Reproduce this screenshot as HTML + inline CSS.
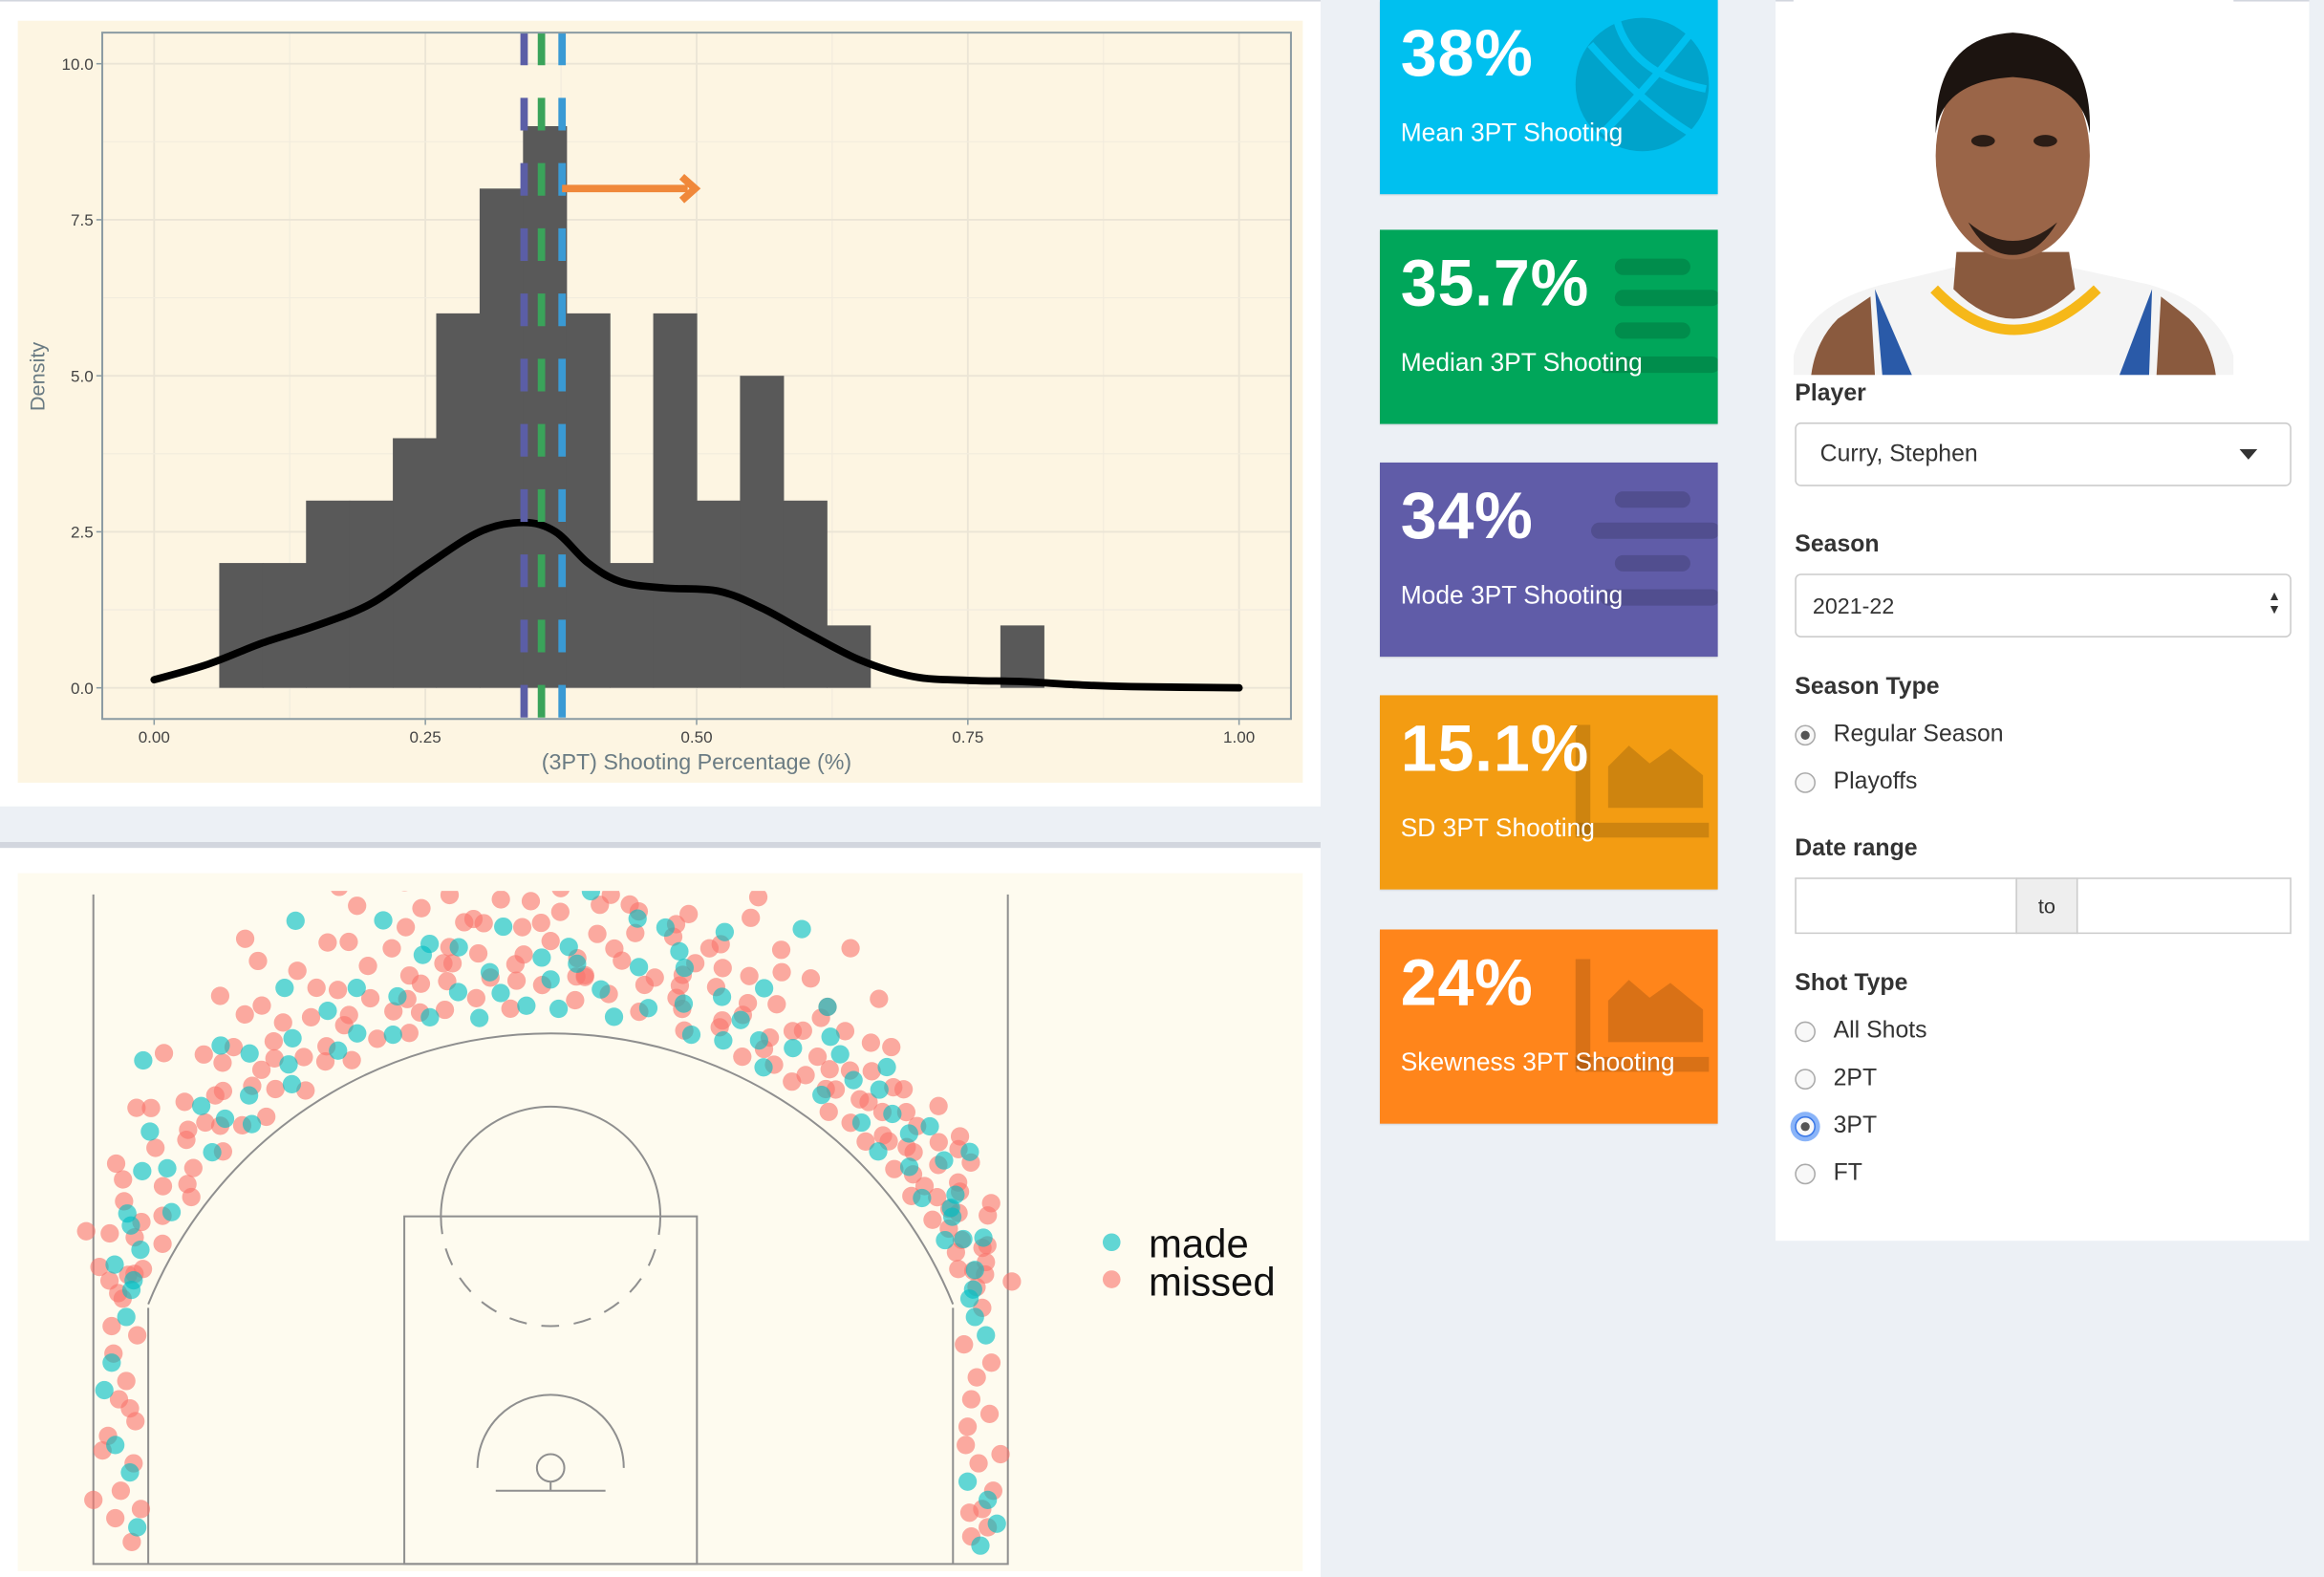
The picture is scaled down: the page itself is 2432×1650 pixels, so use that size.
<!DOCTYPE html>
<html><head><meta charset="utf-8">
<style>
html,body{margin:0;padding:0;background:#ecf0f5;overflow:hidden;width:2432px;height:1644px;}
#root{position:absolute;left:0;top:0;width:1568px;height:1060px;transform:scale(1.55102);transform-origin:0 0;background:#ecf0f5;font-family:"Liberation Sans",sans-serif;}
.abs{position:absolute;}
.vbox{position:absolute;left:931px;width:228px;height:131px;color:#fff;overflow:hidden;box-shadow:0 1px 1px rgba(0,0,0,0.1);}
.vbox .big{position:absolute;left:14px;top:12px;font-size:44px;font-weight:bold;letter-spacing:0.5px;}
.vbox .sub{position:absolute;left:14px;top:80px;font-size:17px;}
.lbl{position:absolute;left:1211px;font-size:16px;font-weight:bold;color:#333;}
.radio{position:absolute;left:1211px;font-size:16px;color:#333;}
.radio .c{position:absolute;left:0;top:2px;width:12px;height:12px;border:1px solid #aaa;border-radius:50%;background:#f8f8f8;}
.radio .c.on::after{content:"";position:absolute;left:3px;top:3px;width:6px;height:6px;border-radius:50%;background:#555;}
.radio span{position:absolute;left:26px;top:0;white-space:nowrap;}
.inp{position:absolute;border:1px solid #ccc;background:#fff;font-size:16px;color:#333;box-sizing:border-box;}
</style></head>
<body>
<div id="root">
  <div class="abs" style="left:0;top:0;width:891px;height:543px;background:#fff;border-top:1px solid #d2d6de;"></div>
  <svg id="hist" class="abs" style="left:0;top:0" width="891" height="543"></svg>
  <div class="abs" style="left:0;top:568px;width:891px;height:492px;background:#fff;border-top:4px solid #d2d6de;"></div>
  <svg id="court" class="abs" style="left:0;top:0" width="891" height="1060"></svg>

  <div class="vbox" style="top:0;background:#00c0ef">
    <svg class="abs" style="left:130px;top:10px" width="94" height="94"><circle cx="47" cy="47" r="45" fill="rgba(0,0,0,0.15)"/><g stroke="#00c0ef" stroke-width="5" fill="none"><path d="M12 20 Q47 60 80 80"/><path d="M20 80 Q50 50 80 12"/><path d="M30 4 Q40 40 90 50"/></g></svg>
    <div class="big">38%</div>
    <div class="sub">Mean 3PT Shooting</div>
  </div>
  <div class="vbox" style="top:155px;background:#00a65a">
    <svg class="abs" style="left:150px;top:18px" width="80" height="84"><g stroke="rgba(0,0,0,0.15)" stroke-width="11" stroke-linecap="round"><line x1="14" y1="7" x2="54" y2="7"/><line x1="14" y1="28" x2="74" y2="28"/><line x1="14" y1="50" x2="54" y2="50"/><line x1="0" y1="73" x2="74" y2="73"/></g></svg>
    <div class="big">35.7%</div>
    <div class="sub">Median 3PT Shooting</div>
  </div>
  <div class="vbox" style="top:312px;background:#605ca8">
    <svg class="abs" style="left:140px;top:18px" width="90" height="84"><g stroke="rgba(0,0,0,0.15)" stroke-width="11" stroke-linecap="round"><line x1="24" y1="7" x2="64" y2="7"/><line x1="8" y1="28" x2="84" y2="28"/><line x1="24" y1="50" x2="64" y2="50"/><line x1="14" y1="73" x2="84" y2="73"/></g></svg>
    <div class="big">34%</div>
    <div class="sub">Mode 3PT Shooting</div>
  </div>
  <div class="vbox" style="top:469px;background:#f39c12">
    <svg class="abs" style="left:130px;top:18px" width="98" height="84"><g fill="rgba(0,0,0,0.15)"><rect x="2" y="2" width="10" height="74"/><rect x="2" y="68" width="90" height="10"/><path d="M24 58 L24 30 L38 16 L52 28 L66 18 L88 36 L88 58 Z"/></g></svg>
    <div class="big">15.1%</div>
    <div class="sub">SD 3PT Shooting</div>
  </div>
  <div class="vbox" style="top:627px;background:#ff851b">
    <svg class="abs" style="left:130px;top:18px" width="98" height="84"><g fill="rgba(0,0,0,0.15)"><rect x="2" y="2" width="10" height="74"/><rect x="2" y="68" width="90" height="10"/><path d="M24 58 L24 30 L38 16 L52 28 L66 18 L88 36 L88 58 Z"/></g></svg>
    <div class="big">24%</div>
    <div class="sub">Skewness 3PT Shooting</div>
  </div>

  <div class="abs" style="left:1198px;top:0;width:360px;height:836px;background:#fff;border-top:1px solid #d2d6de;"></div>
  <svg class="abs" style="left:1210px;top:0" width="297" height="253">
    <rect width="297" height="253" fill="#fff"/>
    <path d="M0 253 L0 240 Q10 205 60 192 L110 180 L185 180 L240 192 Q285 205 297 240 L297 253 Z" fill="#f4f4f4"/>
    <path d="M55 195 L80 253 L60 253 Z M242 195 L220 253 L240 253 Z" fill="#2a5aa8"/>
    <path d="M30 215 Q15 230 12 253 L55 253 L52 200 Z M267 215 Q282 230 285 253 L245 253 L248 200 Z" fill="#8a5a3e"/>
    <path d="M110 170 L108 195 Q148 235 190 195 L186 170 Z" fill="#8a5a3e"/>
    <path d="M95 195 Q148 250 205 195" fill="none" stroke="#f6b819" stroke-width="7"/>
    <ellipse cx="148" cy="105" rx="52" ry="70" fill="#9a6548"/>
    <path d="M96 90 Q95 25 148 22 Q202 25 200 90 Q195 55 148 52 Q100 55 96 90 Z" fill="#1c1410"/>
    <path d="M118 150 Q148 175 178 150 Q165 172 148 172 Q130 172 118 150 Z" fill="#2b1d16"/>
    <ellipse cx="128" cy="95" rx="8" ry="4" fill="#2b1d16"/><ellipse cx="170" cy="95" rx="8" ry="4" fill="#2b1d16"/>
  </svg>
  <div class="lbl" style="top:257px">Player</div>
  <div class="inp" style="left:1211px;top:285px;width:335px;height:43px;border-radius:4px;"><span style="position:absolute;left:16px;top:12px">Curry, Stephen</span><span style="position:absolute;right:22px;top:17px;width:0;height:0;border-left:6px solid transparent;border-right:6px solid transparent;border-top:7px solid #333"></span></div>
  <div class="lbl" style="top:359px">Season</div>
  <div class="inp" style="left:1211px;top:387px;width:335px;height:43px;border-radius:4px;"><span style="position:absolute;left:11px;top:13px;font-size:15px">2021-22</span><span style="position:absolute;right:6px;top:10px;font-size:9px;line-height:9px">▲<br>▼</span></div>
  <div class="lbl" style="top:455px">Season Type</div>
  <div class="radio" style="top:487px"><div class="c on"></div><span>Regular Season</span></div>
  <div class="radio" style="top:519px"><div class="c"></div><span>Playoffs</span></div>
  <div class="lbl" style="top:564px">Date range</div>
  <div class="inp" style="left:1211px;top:592px;width:150px;height:38px;"></div>
  <div class="inp" style="left:1360px;top:592px;width:42px;height:38px;background:#eee;font-size:14px;text-align:center;line-height:36px">to</div>
  <div class="inp" style="left:1401px;top:592px;width:145px;height:38px;"></div>
  <div class="lbl" style="top:655px">Shot Type</div>
  <div class="radio" style="top:687px"><div class="c"></div><span>All Shots</span></div>
  <div class="radio" style="top:719px"><div class="c"></div><span>2PT</span></div>
  <div class="radio" style="top:751px"><div class="c on" style="box-shadow:0 0 0 3px #8ab4f8;border-color:#3b78e7"></div><span>3PT</span></div>
  <div class="radio" style="top:783px"><div class="c"></div><span>FT</span></div>
</div>

<script>
const NS='http://www.w3.org/2000/svg';
function mk(parent,tag,attrs){const e=document.createElementNS(NS,tag);for(const k in attrs)e.setAttribute(k,attrs[k]);parent.appendChild(e);return e;}

// ---------- Histogram data ----------
const binStarts=[0.06,0.10,0.14,0.18,0.22,0.26,0.30,0.34,0.38,0.42,0.46,0.50,0.54,0.58,0.62,0.78];
const binDensity=[2,2,3,3,4,6,8,9,6,2,6,3,5,3,1,1];
const binWidth=0.04;
const densX=[0,0.05,0.10,0.15,0.20,0.25,0.30,0.34,0.37,0.40,0.43,0.47,0.52,0.56,0.60,0.65,0.70,0.75,0.80,0.85,0.90,1.00];
const densY=[0.13,0.38,0.72,1.0,1.35,1.95,2.5,2.65,2.5,2.0,1.7,1.6,1.55,1.28,0.9,0.45,0.18,0.12,0.1,0.05,0.02,0.0];
const statLines=[0.341,0.357,0.376];
const statColors=['#5b5ea6','#3aa35a','#3a9ad4'];
const arrowFrom=[0.376,8.0], arrowTo=[0.50,8.0];
const xTicks=[0,0.25,0.5,0.75,1.0];
const xTickLabels=['0.00','0.25','0.50','0.75','1.00'];
const yTicks=[0,2.5,5,7.5,10];
const yTickLabels=['0.0','2.5','5.0','7.5','10.0'];

const H=document.getElementById('hist');
const px0=69,px1=871,py0=22,py1=485;
const sx=v=>104+v*(836-104);
const sy=v=>464-v*(464-43)/10;
mk(H,'rect',{x:12,y:14,width:867,height:514,fill:'#fdf5e2'});
const grid=mk(H,'g',{});

for(let i=0;i<xTicks.length;i++){
  mk(grid,'line',{x1:sx(xTicks[i]),x2:sx(xTicks[i]),y1:py0,y2:py1,stroke:'#ebe5d6','stroke-width':1.2});
  if(i<xTicks.length-1){const m=(xTicks[i]+xTicks[i+1])/2;mk(grid,'line',{x1:sx(m),x2:sx(m),y1:py0,y2:py1,stroke:'#f2ecde','stroke-width':0.8});}
}
for(let i=0;i<yTicks.length;i++){
  mk(grid,'line',{x1:px0,x2:px1,y1:sy(yTicks[i]),y2:sy(yTicks[i]),stroke:'#ebe5d6','stroke-width':1.2});
  if(i<yTicks.length-1){const m=(yTicks[i]+yTicks[i+1])/2;mk(grid,'line',{x1:px0,x2:px1,y1:sy(m),y2:sy(m),stroke:'#f2ecde','stroke-width':0.8});}
}
const bars=mk(H,'g',{});

for(let i=0;i<binStarts.length;i++){
  const r=mk(bars,'rect',{x:sx(binStarts[i]),y:sy(binDensity[i]),width:sx(binStarts[i]+binWidth)-sx(binStarts[i])+0.4,height:sy(0)-sy(binDensity[i]),fill:'#595959'});
  
  
}
const pts=densX.map((x,i)=>[sx(x),sy(densY[i])]);
let d='M'+pts[0][0]+' '+pts[0][1];
for(let i=0;i<pts.length-1;i++){
  const p0=pts[Math.max(0,i-1)],p1=pts[i],p2=pts[i+1],p3=pts[Math.min(pts.length-1,i+2)];
  d+=` C${p1[0]+(p2[0]-p0[0])/6} ${p1[1]+(p2[1]-p0[1])/6} ${p2[0]-(p3[0]-p1[0])/6} ${p2[1]-(p3[1]-p1[1])/6} ${p2[0]} ${p2[1]}`;
}
const dl=mk(H,'path',{d:d,fill:'none',stroke:'#000','stroke-width':5,'stroke-linecap':'round','stroke-linejoin':'round'});


for(let i=0;i<statLines.length;i++){
  const l=mk(H,'line',{x1:sx(statLines[i]),x2:sx(statLines[i]),y1:py0,y2:py1,stroke:statColors[i],'stroke-width':5,'stroke-dasharray':'22 22'});
  
  
}
const ag=mk(H,'g',{});

mk(ag,'line',{x1:sx(arrowFrom[0]),y1:sy(arrowFrom[1]),x2:sx(arrowTo[0])-6,y2:sy(arrowTo[1]),stroke:'#f0883a','stroke-width':5});
mk(ag,'path',{d:`M${sx(arrowTo[0])-10} ${sy(arrowTo[1])-8} L${sx(arrowTo[0])-1} ${sy(arrowTo[1])} L${sx(arrowTo[0])-10} ${sy(arrowTo[1])+8}`,fill:'none',stroke:'#f0883a','stroke-width':5});
mk(H,'rect',{x:px0,y:py0,width:px1-px0,height:py1-py0,fill:'none',stroke:'#8c9ca3','stroke-width':1.3});
for(let i=0;i<xTicks.length;i++){
  mk(H,'line',{x1:sx(xTicks[i]),x2:sx(xTicks[i]),y1:py1,y2:py1+4,stroke:'#8c9ca3'});
  const t=mk(H,'text',{x:sx(xTicks[i]),y:py1+16,'text-anchor':'middle','font-size':11,fill:'#444','font-family':'Liberation Sans, sans-serif'});
  t.textContent=xTickLabels[i];
  
}
for(let i=0;i<yTicks.length;i++){
  mk(H,'line',{x1:px0-4,x2:px0,y1:sy(yTicks[i]),y2:sy(yTicks[i]),stroke:'#8c9ca3'});
  const t=mk(H,'text',{x:px0-6,y:sy(yTicks[i])+4,'text-anchor':'end','font-size':11,fill:'#444','font-family':'Liberation Sans, sans-serif'});
  t.textContent=yTickLabels[i];
  
}
const xt=mk(H,'text',{x:470,y:519,'text-anchor':'middle','font-size':15,fill:'#6a7b83','font-family':'Liberation Sans, sans-serif'});
xt.textContent='(3PT) Shooting Percentage (%)';

const yt=mk(H,'text',{x:30,y:254,'text-anchor':'middle','font-size':14,fill:'#6a7b83','font-family':'Liberation Sans, sans-serif',transform:'rotate(-90 30 254)'});
yt.textContent='Density';


// ---------- Shot chart data ----------
const cornerMissedX=[-23.5,-22.8,-24.2,-23,-23.8,-22.9,-24.5,-23.2,-22.6,-24,-23.4,-25,-22.4,-23.6,23,23.6,24.2,23.4,22.8,24,23,22.6,23.6,23.8,24.6,22.9,-23.9,-23.1,-22.7,23.3,24.1,22.7,23.9];
const cornerMissedY=[4,5.5,7,8.5,2.5,1.2,6.2,10,12.5,13,14.5,3.5,3,9,1.5,3,4,5.5,7.5,8.2,9,12,14,16.5,6,2.8,11.5,15.8,7.8,10.2,11,6.5,2];
const cornerMadeX=[-23,-23.8,-22.6,-24.4,-23.2,-22.8,23.5,24.4,22.8,23.2,23.8,23.1,-24,23.9];
const cornerMadeY=[5,6.5,2,9.5,13.5,15.5,1,2.2,4.5,13.5,12.5,15,11,3.5];
const arcMissedAngle=[-68,-66,-64,-63,-61,-60,-58,-57,-55,-54,-53,-51,-50,-49,-48,-46,-45,-44,-43,-42,-41,-40,-39,-38,-37,-36,-35,-34,-33,-32,-31,-30,-29,-28,-27,-26,-25,-24,-23,-22,-21,-20,-19,-18,-17,-16,-15,-14,-13,-12,-11,-10,-9,-8,-7,-6,-5,-4,-3,-2,-1,0,1,2,3,4,5,6,7,8,9,10,11,12,13,14,15,16,17,18,19,20,21,22,23,24,25,26,27,28,29,30,31,32,33,34,35,36,37,38,39,40,41,42,43,44,45,46,47,48,49,50,51,52,53,54,55,56,57,58,59,60,62,63,64,66,67,68,-47,-33,-12,3,15,37,52,
 -67,-65,-62,-59,-56,-52,-48,-45,-42,-39,-36,-34,-31,-28,-26,-24,-21,-19,-17,-15,-13,-11,-9,-7,-5,-3,-1,1,3,5,7,9,11,13,15,17,19,21,23,25,27,29,31,33,35,37,39,41,43,45,47,49,51,53,55,57,59,61,63,65,-30,-20,-10,0,10,20,30,-4,4,-16,16,-8,8];
const arcMissedDist=[25.5,27,24.8,28.5,26,24.5,27.5,25.3,29,26.2,24.6,27.8,25.5,30,26.8,24.9,28.3,26,31,25.2,27.3,29.5,24.7,26.5,28.8,25.6,31.5,27,24.6,29.8,26.2,32,25.4,27.9,30.5,24.8,26.7,28.6,31.2,25.3,27.5,29.2,32.5,25,26.8,28,30.6,33,25.7,27.2,29,31.8,26,28.4,30,32.8,25.2,27.6,29.6,31,26.4,28.8,30.4,32.2,25.6,27,29.3,31.5,26.1,28,30.8,33,25.4,27.4,29.8,31.2,26.6,28.7,25,30.1,27.8,32,25.8,29,26.9,31,24.8,28.2,26.4,30.3,25.2,27.6,29.4,24.9,26.8,28.8,31.3,25.6,27.2,24.7,29.6,26.3,25,28,26.6,24.8,27.5,25.7,29,26.2,24.9,27.7,25.5,26.9,24.7,28.4,25.8,27,24.9,26.3,25.4,27.6,25.1,26.5,24.8,26,25.3,27.2,27.1,27.8,28.2,26.9,27.3,25.9,28.3,
 26.2,25.1,27.3,26.1,28.2,25.2,29.4,26.7,27.4,28.5,26.9,29.9,28.4,26.1,29.2,27.1,30.8,26.4,29.7,27.4,31.4,28.1,30.2,27,31.2,28.1,29.8,31.7,27.9,30.9,28.6,29.6,26.9,30.5,27.9,29.7,28.9,26.2,27.6,29.9,25.7,27.3,28.7,25.6,26.6,29.1,27.9,26.5,28.3,25.7,27.4,26.3,28.8,25.6,27.2,26,28.1,25.7,26.8,25.5,33.4,33.8,34,34.2,33.6,33.2,32.8,26.7,26.9,25.9,26.1,30.3,31.1];
const arcMadeAngle=[-67,-65,-62,-59,-56,-52,-50,-47,-44,-41,-39,-36,-34,-31,-29,-27,-24,-22,-20,-18,-15,-13,-11,-9,-7,-5,-3,-1,1,2,4,6,8,10,12,14,16,18,20,22,24,26,28,30,33,36,38,40,42,44,46,48,50,52,54,56,58,60,62,65,68,-25,25,-45,-10,0,12,35,57,
 -60,-54,-43,-38,-33,-26,-17,-6,3,9,15,23,31,41,47,53,61,-2,6,-14,18];
const arcMadeDist=[24.9,26.3,25.4,27,25,26.6,28.6,25.3,27.5,24.9,26.2,28,25.3,27.4,30,25.6,26,28.3,25.2,27.1,25.5,29.4,26.5,24.9,27.3,29.7,25.3,27.9,25.1,28.5,31.6,26.3,24.9,27.8,25.7,29.1,26.4,24.9,27.4,25.2,28.7,26,24.8,26.5,28.1,25.2,26.9,28.6,25.4,26.9,24.9,27.9,25.6,27.3,25.1,26.7,25.9,24.9,26.8,25.6,24.7,33,32.5,31.5,28.9,26.7,30.2,27.6,26.1,
 26.5,27.6,26.1,29.3,26.3,27.8,31.3,26.1,27.6,30.4,28.3,26.6,29.4,27.4,26.8,28.7,25.8,33.6,32.4,28.9,30.8];

const C=document.getElementById('court');
const cx0=371.5, base=1055, ppf=12.34;
const fx=x=>cx0+x*ppf;
const fy=y=>base-y*ppf;
mk(C,'rect',{x:12,y:589,width:867,height:471,fill:'#fefbef'});
const cl=mk(C,'g',{fill:'none',stroke:'#8f8f8f','stroke-width':1.3});

mk(cl,'polyline',{points:`${fx(-25)},${fy(36.6)} ${fx(-25)},${base} ${fx(25)},${base} ${fx(25)},${fy(36.6)}`});
mk(cl,'line',{x1:fx(-22),y1:base,x2:fx(-22),y2:fy(14)});
mk(cl,'line',{x1:fx(22),y1:base,x2:fx(22),y2:fy(14)});
{const r=23.75*ppf,hy=fy(5.25);const dy=Math.sqrt(r*r-(22*ppf)**2);
 mk(cl,'path',{d:`M${fx(-22)} ${hy-dy} A${r} ${r} 0 0 1 ${fx(22)} ${hy-dy}`});}
mk(cl,'rect',{x:fx(-8),y:fy(19),width:16*ppf,height:19*ppf});
mk(cl,'path',{d:`M${fx(-6)} ${fy(19)} A${6*ppf} ${6*ppf} 0 0 1 ${fx(6)} ${fy(19)}`});
mk(cl,'path',{d:`M${fx(-6)} ${fy(19)} A${6*ppf} ${6*ppf} 0 0 0 ${fx(6)} ${fy(19)}`,'stroke-dasharray':'12 10'});
mk(cl,'path',{d:`M${fx(-4)} ${fy(5.25)} A${4*ppf} ${4*ppf} 0 0 1 ${fx(4)} ${fy(5.25)}`});
mk(cl,'circle',{cx:cx0,cy:fy(5.25),r:0.75*ppf});
mk(cl,'line',{x1:fx(-3),x2:fx(3),y1:fy(4),y2:fy(4)});
mk(cl,'line',{x1:cx0,x2:cx0,y1:fy(4.5),y2:fy(4)});
const cp=mk(C,'clipPath',{id:'cc'});
mk(cp,'rect',{x:12,y:601,width:867,height:460});
const shots=mk(C,'g',{'clip-path':'url(#cc)'});

function dot(x,y,col,name){const c=mk(shots,'circle',{cx:fx(x),cy:fy(y),r:6.2,fill:col,'fill-opacity':0.62});
  
  }
const RED='#F8766D',TEAL='#00BFC4';
for(let i=0;i<arcMissedAngle.length;i++){const a=arcMissedAngle[i]*Math.PI/180;dot(arcMissedDist[i]*Math.sin(a),5.25+arcMissedDist[i]*Math.cos(a),RED,'missed-shot');}
for(let i=0;i<cornerMissedX.length;i++)dot(cornerMissedX[i],cornerMissedY[i],RED,'missed-shot');
for(let i=0;i<arcMadeAngle.length;i++){const a=arcMadeAngle[i]*Math.PI/180;dot(arcMadeDist[i]*Math.sin(a),5.25+arcMadeDist[i]*Math.cos(a),TEAL,'made-shot');}
for(let i=0;i<cornerMadeX.length;i++)dot(cornerMadeX[i],cornerMadeY[i],TEAL,'made-shot');
const lg=mk(C,'g',{});

mk(lg,'circle',{cx:750,cy:838,r:6,fill:TEAL,'fill-opacity':0.62});
mk(lg,'circle',{cx:750,cy:863,r:6,fill:RED,'fill-opacity':0.62});
const t1=mk(lg,'text',{x:775,y:848,'font-size':27,fill:'#111','font-family':'Liberation Sans, sans-serif'});t1.textContent='made';

const t2=mk(lg,'text',{x:775,y:874,'font-size':27,fill:'#111','font-family':'Liberation Sans, sans-serif'});t2.textContent='missed';

</script>
</body></html>
